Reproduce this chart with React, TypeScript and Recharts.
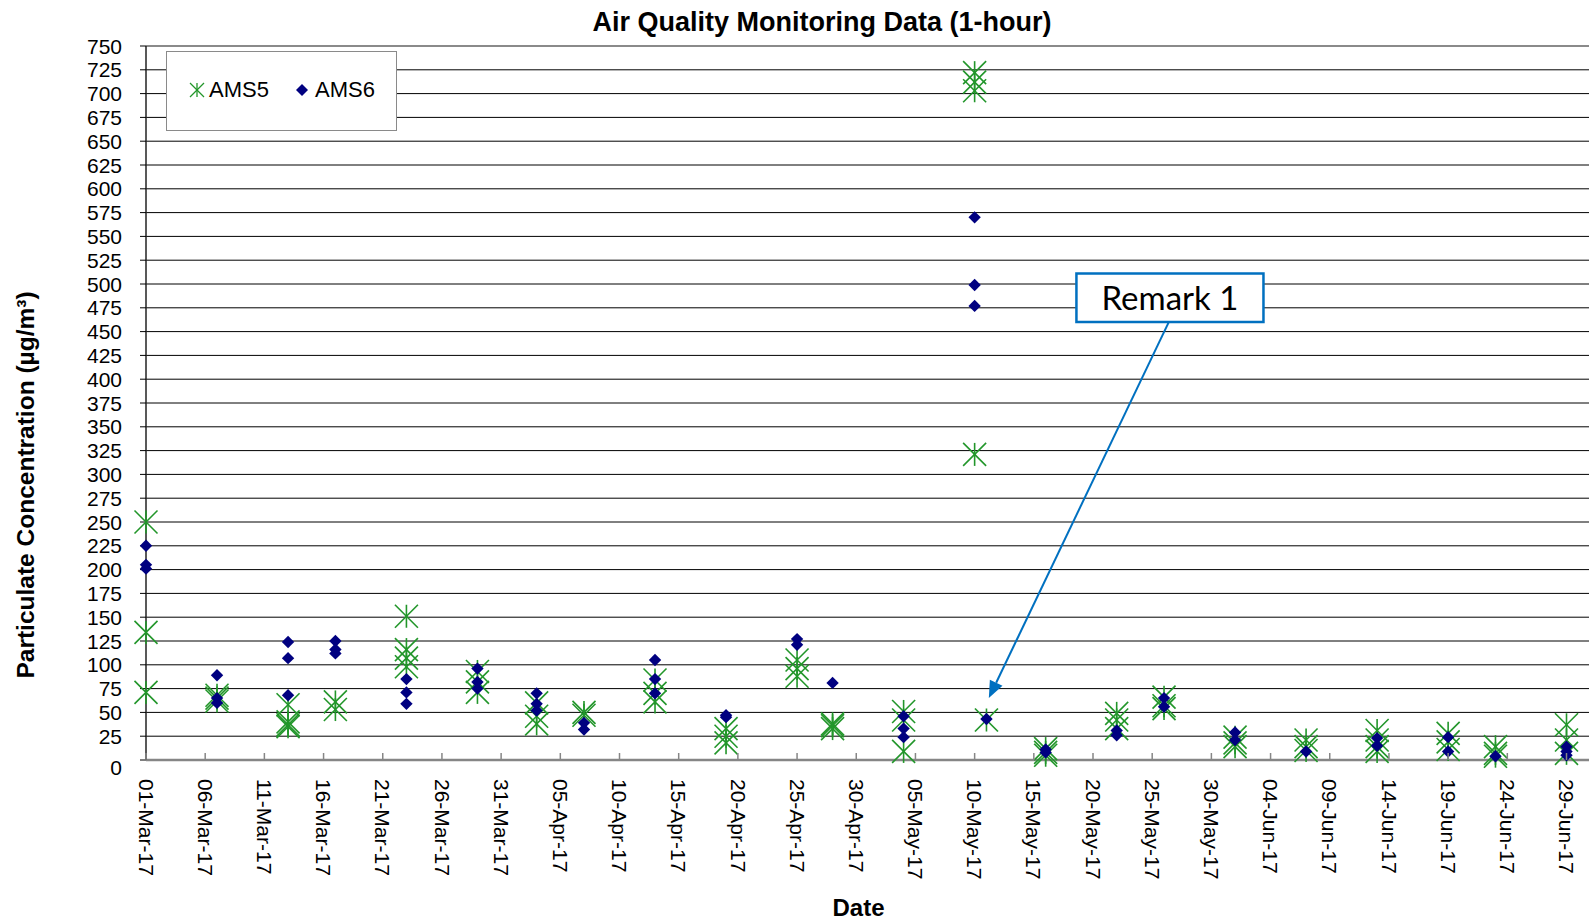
import React from "react";
import {
  ScatterChart,
  Scatter,
  XAxis,
  YAxis,
  CartesianGrid,
  Legend,
  ReferenceArea,
  ReferenceLine,
} from "recharts";

const GREEN = "#22962a";
const NAVY = "#000080";
const BLUE = "#0070c0";
const FONT = '"Liberation Sans", Arial, sans-serif';

// date labels on the x axis (every 5 days)
const xTickLabels = [
  "01-Mar-17", "06-Mar-17", "11-Mar-17", "16-Mar-17", "21-Mar-17", "26-Mar-17",
  "31-Mar-17", "05-Apr-17", "10-Apr-17", "15-Apr-17", "20-Apr-17", "25-Apr-17",
  "30-Apr-17", "05-May-17", "10-May-17", "15-May-17", "20-May-17", "25-May-17",
  "30-May-17", "04-Jun-17", "09-Jun-17", "14-Jun-17", "19-Jun-17", "24-Jun-17",
  "29-Jun-17",
];

const yTicks = [
  0, 25, 50, 75, 100, 125, 150, 175, 200, 225, 250, 275, 300, 325, 350, 375,
  400, 425, 450, 475, 500, 525, 550, 575, 600, 625, 650, 675, 700, 725, 750,
];

// [sampling date, 1-hour readings in µg/m³]
const ams5: [string, number[]][] = [
  ["01-Mar-17", [250, 134, 71]],
  ["07-Mar-17", [68, 65, 62]],
  ["13-Mar-17", [58, 40, 37, 35]],
  ["17-Mar-17", [61, 53]],
  ["23-Mar-17", [151, 116, 107, 98]],
  ["29-Mar-17", [93, 82, 71]],
  ["03-Apr-17", [60, 46, 38]],
  ["07-Apr-17", [50, 47]],
  ["13-Apr-17", [84, 70, 61]],
  ["19-Apr-17", [33, 25, 18]],
  ["25-Apr-17", [105, 96, 88]],
  ["28-Apr-17", [38, 36, 33]],
  ["04-May-17", [51, 42, 9]],
  ["10-May-17", [722, 712, 703, 321]],
  ["11-May-17", [42]],
  ["16-May-17", [12, 8, 5]],
  ["22-May-17", [49, 42, 33]],
  ["26-May-17", [66, 57, 54]],
  ["01-Jun-17", [24, 18, 14]],
  ["07-Jun-17", [21, 14, 10]],
  ["13-Jun-17", [31, 21, 14, 9]],
  ["19-Jun-17", [28, 19, 11]],
  ["23-Jun-17", [14, 7, 4]],
  ["29-Jun-17", [37, 21, 7]],
];

const ams6: [string, number[]][] = [
  ["01-Mar-17", [225, 205, 201]],
  ["07-Mar-17", [89, 65, 60]],
  ["13-Mar-17", [124, 107, 68]],
  ["17-Mar-17", [125, 116, 112]],
  ["23-Mar-17", [85, 71, 59]],
  ["29-Mar-17", [96, 82, 75]],
  ["03-Apr-17", [70, 59, 52]],
  ["07-Apr-17", [39, 32]],
  ["13-Apr-17", [105, 85, 70]],
  ["19-Apr-17", [47, 45]],
  ["25-Apr-17", [127, 121]],
  ["28-Apr-17", [81]],
  ["04-May-17", [46, 33, 24]],
  ["10-May-17", [570, 499, 477]],
  ["11-May-17", [43]],
  ["16-May-17", [11, 8]],
  ["22-May-17", [31, 26]],
  ["26-May-17", [65, 56]],
  ["01-Jun-17", [29, 21]],
  ["07-Jun-17", [9]],
  ["13-Jun-17", [23, 15]],
  ["19-Jun-17", [24, 9]],
  ["23-Jun-17", [4]],
  ["29-Jun-17", [14, 9, 5]],
];

// "Remark 1" callout, in chart units (days since 01-Mar, µg/m³)
const remarkBox = { x1: 78.6, x2: 94.4, y1: 460, y2: 511 };
const remarkArrow = { from: { x: 86.4, y: 460 }, to: { x: 71.2, y: 65 } };

const MONTHS: Record<string, number> = { Mar: 2, Apr: 3, May: 4, Jun: 5 };
const START = Date.UTC(2017, 2, 1);

function dayOf(label: string) {
  const [d, m] = label.split("-");
  return (Date.UTC(2017, MONTHS[m], Number(d)) - START) / 86400000;
}

function toPoints(rows: [string, number[]][]) {
  return rows.flatMap(([date, vals]) => vals.map((v) => ({ x: dayOf(date), y: v })));
}

const ams5Points = toPoints(ams5);
const ams6Points = toPoints(ams6);
const xTicks = xTickLabels.map(dayOf);
const labelByDay = new Map(xTicks.map((d, i) => [d, xTickLabels[i]]));

const StarMark = ({ cx, cy, r = 11.5, w = 1.6 }: any) => (
  <g stroke={GREEN} strokeWidth={w}>
    <line x1={cx - r} y1={cy - r} x2={cx + r} y2={cy + r} />
    <line x1={cx - r} y1={cy + r} x2={cx + r} y2={cy - r} />
    <line x1={cx} y1={cy - r} x2={cx} y2={cy + r} />
  </g>
);

const DiamondMark = ({ cx, cy, r = 6.2 }: any) => (
  <path d={`M${cx},${cy - r}L${cx + r},${cy}L${cx},${cy + r}L${cx - r},${cy}Z`} fill={NAVY} />
);

const DateTick = ({ x, y, payload }: any) => (
  <g>
    <line x1={x} x2={x} y1={y - 17} y2={y - 24} stroke="#868686" strokeWidth={1.5} />
    <text
      transform={`translate(${x},${y + 2}) rotate(90)`}
      dy="0.35em"
      textAnchor="start"
      fontSize={21}
      fontFamily={FONT}
      fill="#000"
    >
      {labelByDay.get(payload.value) ?? ""}
    </text>
  </g>
);

// Excel nudges the "0" label down below the axis line
const ValueTick = ({ x, y, payload }: any) => (
  <text
    x={x}
    y={payload.value === 0 ? y + 7 : y}
    dy="0.36em"
    textAnchor="end"
    fontSize={21}
    fontFamily={FONT}
    fill="#000"
  >
    {payload.value}
  </text>
);

const YLabel = () => (
  <text
    transform="translate(25,485) rotate(-90)"
    textAnchor="middle"
    dominantBaseline="central"
    fontSize={24.5}
    fontWeight="bold"
    fontFamily={FONT}
    fill="#000"
  >
    Particulate Concentration (µg/m³)
  </text>
);

const XLabel = ({ viewBox }: any) => (
  <text
    x={viewBox.x + viewBox.width / 2 - 9}
    y={viewBox.y + viewBox.height - 8}
    textAnchor="middle"
    fontSize={24}
    fontWeight="bold"
    fontFamily={FONT}
    fill="#000"
  >
    Date
  </text>
);

const Arrow = ({ x1, y1, x2, y2 }: any) => {
  const a = Math.atan2(y2 - y1, x2 - x1);
  const len = 17;
  const half = 7;
  const bx = x2 - len * Math.cos(a);
  const by = y2 - len * Math.sin(a);
  const px = -Math.sin(a) * half;
  const py = Math.cos(a) * half;
  return (
    <g>
      <line x1={x1} y1={y1} x2={bx} y2={by} stroke={BLUE} strokeWidth={2} />
      <polygon points={`${x2},${y2} ${bx + px},${by + py} ${bx - px},${by - py}`} fill={BLUE} />
    </g>
  );
};

const LegendBox = () => (
  <div
    style={{
      position: "relative",
      width: 229,
      height: 78,
      border: "1px solid #8a8a8a",
      background: "#fff",
      fontFamily: FONT,
      fontSize: 22,
      color: "#000",
    }}
  >
    <svg width={229} height={78} style={{ position: "absolute", left: 0, top: 0 }}>
      <StarMark cx={30} cy={38} r={7} w={1.3} />
      <DiamondMark cx={135} cy={38} r={6} />
    </svg>
    <span style={{ position: "absolute", left: 42, top: 25, lineHeight: "26px" }}>AMS5</span>
    <span style={{ position: "absolute", left: 148, top: 25, lineHeight: "26px" }}>AMS6</span>
  </div>
);

export default function App() {
  return (
    <div style={{ position: "absolute", left: 0, top: 0, width: 1589, height: 924, background: "#fff" }}>
      <div
        style={{
          position: "absolute",
          left: 822,
          top: 9,
          transform: "translateX(-50%)",
          whiteSpace: "nowrap",
          fontFamily: FONT,
          fontWeight: "bold",
          fontSize: 27,
          lineHeight: "27px",
          color: "#000",
        }}
      >
        Air Quality Monitoring Data (1-hour)
      </div>
      <ScatterChart width={1589} height={924} margin={{ top: 46, right: 0, bottom: 0, left: 0 }}>
        <CartesianGrid vertical={false} stroke="#000" strokeWidth={1} />
        <XAxis
          type="number"
          dataKey="x"
          domain={[0, 121.9]}
          ticks={xTicks}
          interval={0}
          height={164}
          tickSize={0}
          tickMargin={17}
          tickLine={false}
          axisLine={{ stroke: "#868686", strokeWidth: 2.5 }}
          tick={<DateTick />}
          label={<XLabel />}
        />
        <YAxis
          type="number"
          dataKey="y"
          domain={[0, 750]}
          ticks={yTicks}
          interval={0}
          width={146}
          tickSize={6}
          tickMargin={18}
          tickLine={{ stroke: "#000" }}
          axisLine={{ stroke: "#222", strokeWidth: 1.5 }}
          tick={<ValueTick />}
          label={<YLabel />}
        />
        <ReferenceLine y={750} stroke="#8a8a8a" strokeWidth={2} />
        <Legend
          verticalAlign="middle"
          align="center"
          layout="horizontal"
          content={<LegendBox />}
          wrapperStyle={{ left: 166, top: 51, width: 231, height: 80 }}
        />
        <Scatter name="AMS5" data={ams5Points} shape={(p: any) => <StarMark cx={p.cx} cy={p.cy} />} isAnimationActive={false} />
        <Scatter name="AMS6" data={ams6Points} shape={(p: any) => <DiamondMark cx={p.cx} cy={p.cy} />} isAnimationActive={false} />
        <ReferenceLine
          segment={[remarkArrow.from, remarkArrow.to]}
          ifOverflow="visible"
          shape={(p: any) => <Arrow {...p} />}
        />
        <ReferenceArea
          x1={remarkBox.x1}
          x2={remarkBox.x2}
          y1={remarkBox.y1}
          y2={remarkBox.y2}
          fill="#fff"
          fillOpacity={1}
          stroke={BLUE}
          strokeWidth={2.5}
          ifOverflow="visible"
          label={{
            value: "Remark 1",
            position: "center",
            fontSize: 33,
            fontFamily: "Lato, sans-serif",
            fill: "#000",
          }}
        />
      </ScatterChart>
    </div>
  );
}
